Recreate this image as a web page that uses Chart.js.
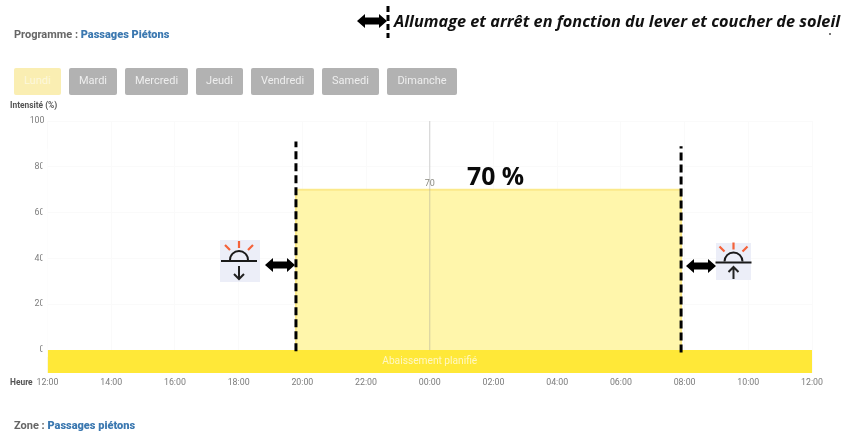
<!DOCTYPE html>
<html lang="fr"><head><meta charset="utf-8">
<script src="https://cdn.jsdelivr.net/npm/chart.js@4"></script>
<style>
html,body{margin:0;padding:0;background:#fff;width:857px;height:434px;overflow:hidden}
#wrap{position:relative;width:857px;height:434px;filter:blur(.35px);font-family:Roboto,sans-serif}
canvas{position:absolute;left:0;top:0}
.t{position:absolute;white-space:nowrap}
.lab{font-weight:700;font-size:11px;color:#666;line-height:12px}
.lab b{color:#3b78b0}
.small{font-weight:700;font-size:8.4px;color:#555;line-height:10px}
.btn{position:absolute;top:68px;height:27px;line-height:26px;border-radius:2px;background:#b2b2b2;color:#eee;font-size:11px;text-align:center;box-sizing:border-box}
.btn.on{background:#faeeb2;color:#fdf8dc}
.note{font-family:"Open Sans",sans-serif;font-weight:700;font-style:italic;font-size:16.3px;color:#111;line-height:18px}
.big{font-family:"Open Sans",sans-serif;font-weight:700;font-size:24.8px;color:#0a0a0a;line-height:28px}
svg{position:absolute;overflow:visible}
</style></head><body>
<div id="wrap">
<canvas id="c" width="857" height="434"></canvas>

<div class="t lab" style="left:14px;top:29px">Programme : <b>Passages Piétons</b></div>
<div class="t small" style="left:10px;top:100px">Intensité (%)</div>
<div class="t small" style="left:10px;top:377px">Heure</div>
<div class="t lab" style="left:14px;top:420px">Zone : <b>Passages piétons</b></div>
<div class="t note" style="left:394px;top:12px">Allumage et arrêt en fonction du lever et coucher de soleil</div>
<div class="t big" style="left:467px;top:161px">70 %</div>
<div id="btns"></div>

<svg width="857" height="434" style="left:0;top:0">
  <defs>
    <path id="dbl" d="M0 0 L8 -7 L8 -3.500 L22 -3.500 L22 -7 L30 0 L22 7 L22 3.500 L8 3.500 L8 7 Z" fill="#000"/>
    <g id="sun">
      <path d="M-14 -21 L-9 -16 M0 -25 L0 -18 M14 -21 L9 -16" stroke="#f4623a" stroke-width="2.2" fill="none"/>
      <path d="M-9 -6 A9 9 0 0 1 9 -6" stroke="#1a1a1a" stroke-width="2" fill="none"/>
      <path d="M-18 -5 L18 -5" stroke="#1a1a1a" stroke-width="2"/>
    </g>
  </defs>
  <use href="#dbl" x="357" y="21"/>
  <path d="M388 6 V38" stroke="#000" stroke-width="3" stroke-dasharray="6 3" fill="none"/>
  <rect x="829" y="33" width="2" height="2" fill="#777"/>

  <rect x="220" y="240" width="40" height="42" fill="#eceef8"/>
  <use href="#sun" x="239" y="266"/>
  <path d="M239 266 V279 M234 274 L239 279 L244 274" stroke="#222" stroke-width="2" fill="none"/>
  <use href="#dbl" x="265" y="265"/>

  <use href="#dbl" x="686" y="266"/>
  <rect x="716" y="243" width="35" height="37" fill="#eceef8"/>
  <use href="#sun" x="733.5" y="267.500"/>
  <path d="M733.500 279 V267 M728.500 272 L733.500 267 L738.500 272" stroke="#222" stroke-width="2" fill="none"/>
</svg>
</div>

<script>
// ---- chart values ----
const hourTicks   = [0,2,4,6,8,10,12,14,16,18,20,22,24];
const tickLabels  = ["12:00","14:00","16:00","18:00","20:00","22:00","00:00","02:00","04:00","06:00","08:00","10:00","12:00"];
const levelHours  = [7.8,7.8,19.89,19.89];
const levelValues = [0,70,70,0];
const bandHours   = [0,24];
const bandValues  = [0,0];
const sunsetHours = [7.8,7.8];
const sunsetY     = [-0.5,91];
const sunriseHours= [19.89,19.89];
const sunriseY    = [-1,89];
const midHours    = [12,12];
const midY        = [0,100];
const peakLabel   = "70";
const bandLabel   = "Abaissement planifié";
const days = ["Lundi","Mardi","Mercredi","Jeudi","Vendredi","Samedi","Dimanche"];
// ----------------------
const pts=(xs,ys)=>xs.map((x,i)=>({x,y:ys[i]}));

const btnBox=[[14,47],[69,48],[125,63],[196,47],[251,63],[322,57],[387,70]];
days.forEach((d,i)=>{
  const e=document.createElement('div');
  e.className='btn'+(i===0?' on':'');
  e.style.left=btnBox[i][0]+'px';e.style.width=btnBox[i][1]+'px';e.textContent=d;
  document.getElementById('btns').appendChild(e);
});

const overlay={id:'overlay',
  afterDraw(ch){
    const {ctx,scales:{x,y},chartArea:a}=ch;
    ctx.save();
    // tick labels are cut off by the chart's edge below the top one
    ctx.fillStyle='#fff';
    ctx.fillRect(a.left-5,y.getPixelForValue(88),5,y.getPixelForValue(-3)-y.getPixelForValue(88));
    ctx.textAlign='center';ctx.textBaseline='middle';
    ctx.font='10.2px Roboto';ctx.fillStyle='#fff7c4';
    ctx.fillText(bandLabel,x.getPixelForValue(12),y.getPixelForValue(-4.8));
    ctx.font='9px Roboto';ctx.fillStyle='#8a8a80';
    ctx.fillText(peakLabel,x.getPixelForValue(12),y.getPixelForValue(72.8));
    ctx.restore();
  }};

new Chart(document.getElementById('c'),{
  type:'scatter',
  data:{datasets:[
    {data:pts(bandHours,bandValues),showLine:true,fill:'start',backgroundColor:'#ffe838',borderWidth:0,pointRadius:0,order:5},
    {data:pts(levelHours,levelValues),showLine:true,fill:'origin',backgroundColor:'#fff6ab',borderColor:'#fbe98a',borderWidth:2,pointRadius:0,order:4},
    {data:pts(midHours,midY),showLine:true,borderColor:'rgba(150,150,150,.42)',borderWidth:1,pointRadius:0,order:3},
    {data:pts(sunsetHours,sunsetY),showLine:true,borderColor:'#000',borderWidth:3,borderDash:[8,4],pointRadius:0,order:1},
    {data:pts(sunriseHours,sunriseY),showLine:true,borderColor:'#000',borderWidth:3,borderDash:[8,4],pointRadius:0,order:1}
  ]},
  options:{
    responsive:false,animation:false,
    layout:{padding:{left:0,top:121,right:45,bottom:0}},
    plugins:{legend:{display:false},tooltip:{enabled:false},title:{display:false}},
    scales:{
      x:{type:'linear',min:0,max:24,
        afterBuildTicks(s){s.ticks=hourTicks.map(v=>({value:v}));},
        afterFit(s){s.height=434-373;},
        grid:{color:'#fafafa',lineWidth:1,drawTicks:false,drawOnChartArea:true},
        border:{display:false},
        ticks:{autoSkip:false,maxRotation:0,padding:5,color:'#7c7c7c',font:{family:'Roboto',size:8.8},
          callback(v){const i=hourTicks.indexOf(v);return i<0?'':tickLabels[i];}}
      },
      y:{type:'linear',min:-10,max:100,
        afterBuildTicks(s){s.ticks=s.ticks.filter(t=>t.value>=0);},
        afterFit(s){s.width=47.5;},
        grid:{color:'#fafafa',lineWidth:1,drawTicks:false},
        border:{display:false},
        ticks:{stepSize:20,padding:3,color:'#7c7c7c',font:{family:'Roboto',size:8.8}}
      }
    }
  },
  plugins:[overlay]
});
</script>
</body></html>
